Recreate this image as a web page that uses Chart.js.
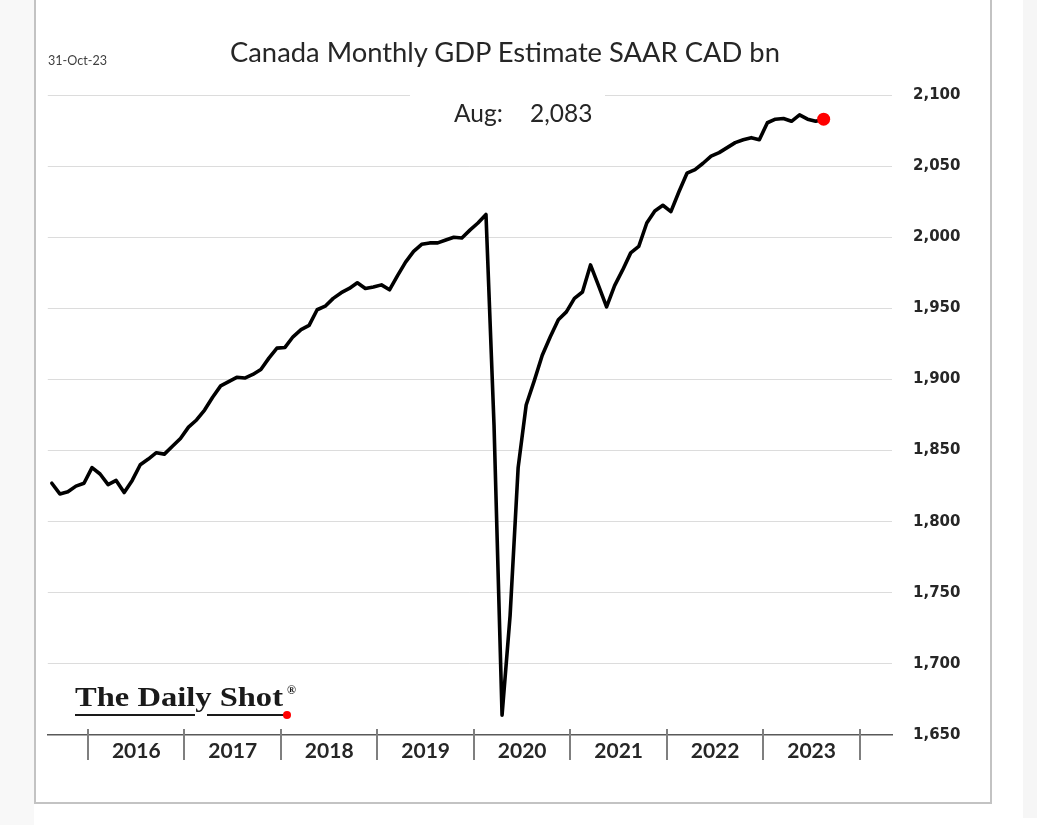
<!DOCTYPE html>
<html><head><meta charset="utf-8">
<script src="https://cdn.jsdelivr.net/npm/chart.js@4.4.0/dist/chart.umd.min.js"></script>
<style>
html,body{margin:0;padding:0;background:#fff;width:1037px;height:825px;overflow:hidden;}
body{position:relative;font-family:Lato,"Open Sans",sans-serif;}
canvas{position:absolute;left:0;top:0;z-index:1;}
.t{position:absolute;white-space:nowrap;line-height:1;z-index:3;color:#262626;}
</style></head><body>
<div style="position:absolute;left:0;top:0;width:34px;height:825px;background:#f8f8f8"></div>
<div style="position:absolute;left:1023px;top:0;width:14px;height:818px;background:#f6f6f6"></div>
<div style="position:absolute;left:34px;top:0;width:958px;height:804px;box-sizing:border-box;border:2px solid #c3c3c3;border-top:none;background:#fff"></div>
<canvas id="c" width="1037" height="825"></canvas>
<div style="position:absolute;left:410px;top:86px;width:195px;height:40px;background:#fff;z-index:2"></div>
<div class="t" id="title">Canada Monthly GDP Estimate SAAR CAD bn</div>
<div class="t" id="date" style="font-size:11px;color:#404040">31-Oct-23</div>
<div class="t" id="annLbl" style="font-size:24.5px"></div>
<div class="t" id="annVal" style="font-size:24.5px"></div>
<div class="t" id="logo" style="font-family:'Liberation Serif','DejaVu Serif',serif;font-weight:bold;font-size:27px;color:#1a1a1a;transform-origin:0 0">The Daily Shot</div>
<div class="t" id="reg" style="font-family:'Liberation Serif',serif;font-weight:bold;font-size:12px;color:#1a1a1a">®</div>
<div style="position:absolute;left:75px;top:714px;width:120px;height:2px;background:#1a1a1a;z-index:3"></div>
<div style="position:absolute;left:207px;top:714px;width:80px;height:2px;background:#1a1a1a;z-index:3"></div>
<div style="position:absolute;left:283px;top:711px;width:8px;height:8px;border-radius:50%;background:#ff0000;z-index:4"></div>
<script>
// ---- data ----
const monthLabels = [
  'Aug 2015','Sep 2015','Oct 2015','Nov 2015','Dec 2015',
  'Jan 2016','Feb 2016','Mar 2016','Apr 2016','May 2016','Jun 2016','Jul 2016','Aug 2016','Sep 2016','Oct 2016','Nov 2016','Dec 2016',
  'Jan 2017','Feb 2017','Mar 2017','Apr 2017','May 2017','Jun 2017','Jul 2017','Aug 2017','Sep 2017','Oct 2017','Nov 2017','Dec 2017',
  'Jan 2018','Feb 2018','Mar 2018','Apr 2018','May 2018','Jun 2018','Jul 2018','Aug 2018','Sep 2018','Oct 2018','Nov 2018','Dec 2018',
  'Jan 2019','Feb 2019','Mar 2019','Apr 2019','May 2019','Jun 2019','Jul 2019','Aug 2019','Sep 2019','Oct 2019','Nov 2019','Dec 2019',
  'Jan 2020','Feb 2020','Mar 2020','Apr 2020','May 2020','Jun 2020','Jul 2020','Aug 2020','Sep 2020','Oct 2020','Nov 2020','Dec 2020',
  'Jan 2021','Feb 2021','Mar 2021','Apr 2021','May 2021','Jun 2021','Jul 2021','Aug 2021','Sep 2021','Oct 2021','Nov 2021','Dec 2021',
  'Jan 2022','Feb 2022','Mar 2022','Apr 2022','May 2022','Jun 2022','Jul 2022','Aug 2022','Sep 2022','Oct 2022','Nov 2022','Dec 2022',
  'Jan 2023','Feb 2023','Mar 2023','Apr 2023','May 2023','Jun 2023','Jul 2023','Aug 2023'
];
const gdpValues = [
  1827,1819.5,1821,1825,1827,
  1838,1833.5,1826,1829,1820.5,1829,1840,1844,1848.5,1847.5,1853,1858.5,
  1866.5,1871.5,1878.5,1887.5,1895.5,1898.5,1901.5,1901,1903.5,1907,1915,1922,
  1922.5,1930,1935,1938,1949,1951.5,1957,1961,1964,1968,1964,1965,
  1966.5,1963,1973,1982.5,1990,1995,1996,1996,1998,2000,1999.5,2005,
  2010,2016,1868,1664,1734,1838,1882,1899,1917,1930,1942,1947.5,
  1957,1961.5,1980.5,1966,1951,1966,1977,1989,1993.5,2010,2018.5,2022.5,
  2018,2032,2045,2047.5,2052,2057,2059.5,2063,2066.5,2068.5,2070,2068.5,
  2080.5,2083,2083.5,2081.5,2086,2083,2081.5,2083
];
const yearLabels = ['2016','2017','2018','2019','2020','2021','2022','2023'];
const yTickValues = [1650,1700,1750,1800,1850,1900,1950,2000,2050,2100];

// ---- derived ----
const janIdx = yearLabels.map(y => monthLabels.indexOf('Jan ' + y));
const boundaries = janIdx.map(i => i - 0.5);
boundaries.push(janIdx[janIdx.length - 1] + 12 - 0.5);
const mids = janIdx.map(i => i + 5.5);
const points = gdpValues.map((v, i) => ({x: i, y: v}));
const last = gdpValues.length - 1;

const yearTicks = {
  id: 'yearTicks',
  afterDraw(chart) {
    const xs = chart.scales.x, c = chart.ctx, y0 = xs.top;
    c.save();
    c.strokeStyle = '#7f7f7f'; c.lineWidth = 2;
    boundaries.forEach(v => {
      const x = Math.round(xs.getPixelForValue(v));
      c.beginPath(); c.moveTo(x, y0 - 6); c.lineTo(x, y0 + 25); c.stroke();
    });
    c.restore();
  }
};

new Chart(document.getElementById('c').getContext('2d'), {
  type: 'line',
  data: {datasets: [{
    data: points,
    borderColor: '#000', borderWidth: 3.6, tension: 0,
    borderJoinStyle: 'round', borderCapStyle: 'round',
    pointRadius: c => c.dataIndex === last ? 6.5 : 0,
    pointHoverRadius: 0,
    pointBackgroundColor: '#ff0000', pointBorderWidth: 0,
    clip: false
  }]},
  options: {
    responsive: false, animation: false, devicePixelRatio: 1,
    layout: {padding: {left: 47.8, top: 95, right: 45, bottom: 50}},
    plugins: {legend: {display: false}, tooltip: {enabled: false}},
    scales: {
      x: {
        type: 'linear', min: -0.5, max: 104.5,
        afterBuildTicks: s => { s.ticks = boundaries.concat(mids).sort((a,b)=>a-b).map(v => ({value: v})); },
        afterFit: s => { s.height = 40; },
        ticks: {
          autoSkip: false, maxRotation: 0, minRotation: 0, padding: 4,
          font: {family: 'Lato', weight: 'bold', size: 21}, color: '#262626',
          callback: v => { const k = mids.indexOf(v); return k >= 0 ? yearLabels[k] : ''; }
        },
        grid: {display: false, drawTicks: false},
        border: {display: true, color: '#595959', width: 1.5}
      },
      y: {
        position: 'right', min: 1650, max: 2100,
        afterBuildTicks: s => { s.ticks = yTickValues.map(v => ({value: v})); },
        afterFit: s => { s.width = 100; },
        ticks: {
          padding: 21, font: {family: 'DejaVu Sans', weight: 'bold', size: 15}, color: '#262626',
          callback: v => v.toLocaleString('en-US')
        },
        grid: {color: c => c.tick && c.tick.value === 1650 ? 'rgba(0,0,0,0)' : '#dcdcdc', lineWidth: 1, drawTicks: false},
        border: {display: false}
      }
    }
  },
  plugins: [yearTicks]
});

// ---- text placement ----
function fit(id, w) {
  const el = document.getElementById(id);
  const r = el.getBoundingClientRect().width;
  const fs = parseFloat(getComputedStyle(el).fontSize);
  el.style.fontSize = (fs * w / r) + 'px';
  return el;
}
function place(el, left, cy) {
  const b = el.getBoundingClientRect();
  el.style.left = left + 'px';
  el.style.top = (cy - b.height / 2) + 'px';
}
document.getElementById('title').style.fontSize = '24px';
let el = fit('title', 550); place(el, 230, 52);
el = fit('date', 59); place(el, 48, 61);
document.getElementById('annLbl').textContent = monthLabels[last].split(' ')[0] + ':';
document.getElementById('annVal').textContent = gdpValues[last].toLocaleString('en-US');
el = document.getElementById('annLbl'); place(el, 454, 113);
el = document.getElementById('annVal'); place(el, 530, 113);
const logo = document.getElementById('logo');
place(logo, 75, 697);
const lw = logo.getBoundingClientRect().width;
logo.style.transform = 'scaleX(' + (208 / lw) + ')';
place(document.getElementById('reg'), 287, 690);
</script>
</body></html>
